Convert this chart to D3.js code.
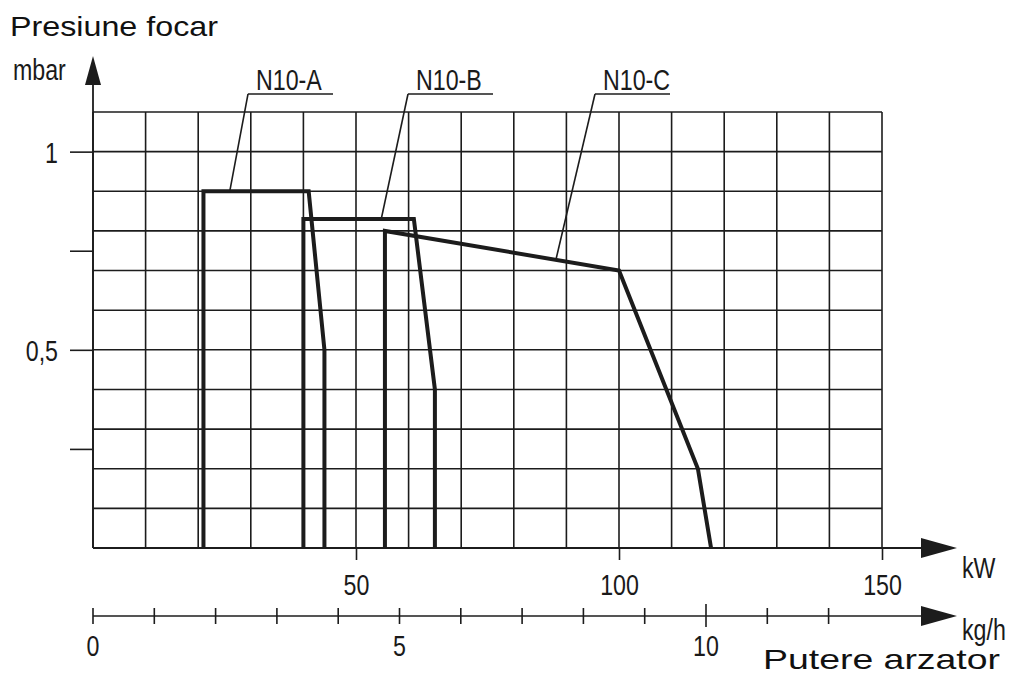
<!DOCTYPE html>
<html>
<head>
<meta charset="utf-8">
<script src="https://cdn.jsdelivr.net/npm/d3@7"></script>
<style>
  body { margin: 0; background: #fff; }
  svg { display: block; }
  .tech { font-family: "Liberation Sans", Arial, sans-serif; fill: #1a1a1a; }
  .title { font-family: "Liberation Sans", Arial, sans-serif; fill: #111; }
</style>
</head>
<body>
<div id="js-chart"></div>
<script>
// axis values
const kwTicks = [50, 100, 150];
const kghTicks = [0, 1, 2, 3, 4, 5, 6, 7, 8, 9, 10, 11, 12];
const kghLabels = [0, 5, 10];
const mbarTicks = [0.25, 0.5, 0.75, 1];
const mbarLabels = { 0.5: '0,5', 1: '1' };

// burner curves [kW, mbar]
const n10A = [[21, 0], [21, 0.9], [41, 0.9], [44, 0.5], [44, 0]];
const n10B = [[40, 0], [40, 0.83], [61, 0.83], [65, 0.4], [65, 0]];
const n10C = [[55.5, 0], [55.5, 0.8], [100, 0.7], [115, 0.2], [117.5, 0]];
const seriesNames = ['N10-A', 'N10-B', 'N10-C'];
const seriesData = [n10A, n10B, n10C];
// where each leader touches its curve [kW, mbar]
const leaderAnchors = [[26, 0.9], [54.8, 0.83], [88, 0.727]];

const width = 1015, height = 675;
const squeeze = 0.8; // narrow technical lettering

const svg = d3.select('#js-chart')
  .append('svg')
  .attr('width', width)
  .attr('height', height);

const x = d3.scaleLinear().domain([0, 150]).range([93, 882]);
const y = d3.scaleLinear().domain([0, 1.1]).range([548, 112]);
const xk = d3.scaleLinear().domain([0, 10]).range([93, 706]);

const ink = '#1c1c1c';

// narrow text placed at (tx, ty)
function techText(sel, tx, ty, anchor) {
  return sel.append('text')
    .attr('class', 'tech')
    .attr('font-size', 29)
    .attr('text-anchor', anchor || 'start')
    .attr('transform', `translate(${tx},${ty}) scale(${squeeze},1)`);
}

// grid
const grid = svg.append('g').attr('stroke', ink).attr('stroke-width', 1.6);
grid.selectAll('.v').data(d3.range(0, 151, 10)).enter().append('line')
  .attr('x1', d => x(d)).attr('x2', d => x(d))
  .attr('y1', y(0)).attr('y2', y(1.1));
grid.selectAll('.h').data(d3.range(0, 12).map(i => i / 10)).enter().append('line')
  .attr('x1', x(0)).attr('x2', x(150))
  .attr('y1', d => y(d)).attr('y2', d => y(d));

// y axis line + arrow
svg.append('line').attr('stroke', ink).attr('stroke-width', 1.8)
  .attr('x1', x(0)).attr('x2', x(0)).attr('y1', y(0)).attr('y2', 80);
svg.append('path').attr('fill', ink)
  .attr('d', `M${x(0)},56 L${x(0) - 8},85 L${x(0) + 8},85 Z`);

// y ticks
const yAxis = svg.append('g')
  .attr('transform', `translate(${x(0)},0)`)
  .call(d3.axisLeft(y).tickValues(mbarTicks).tickSize(23).tickFormat(d => mbarLabels[d] || ''));
yAxis.select('.domain').remove();
yAxis.attr('font-family', null).attr('font-size', null);
yAxis.selectAll('.tick line').attr('stroke', ink).attr('stroke-width', 1.6);
yAxis.selectAll('.tick text')
  .attr('class', 'tech').attr('font-size', 29).attr('fill', null)
  .attr('x', 0).attr('dy', '0.36em')
  .attr('transform', `translate(-35,0) scale(${squeeze},1)`);

// kW axis
svg.append('line').attr('stroke', ink).attr('stroke-width', 1.8)
  .attr('x1', x(0)).attr('x2', 925).attr('y1', y(0)).attr('y2', y(0));
svg.append('path').attr('fill', ink)
  .attr('d', `M957,${y(0)} L921,${y(0) - 10} L921,${y(0) + 10} Z`);
const kwAxis = svg.append('g')
  .attr('transform', `translate(0,${y(0)})`)
  .call(d3.axisBottom(x).tickValues(kwTicks).tickSize(12).tickFormat(d3.format('d')));
kwAxis.select('.domain').remove();
kwAxis.attr('font-family', null).attr('font-size', null);
kwAxis.selectAll('.tick line').attr('stroke', ink).attr('stroke-width', 1.6);
kwAxis.selectAll('.tick text')
  .attr('class', 'tech').attr('font-size', 29).attr('fill', null)
  .attr('y', 0).attr('dy', 0)
  .attr('transform', `translate(0,47) scale(${squeeze},1)`);
techText(svg, 962, 578).text('kW');

// kg/h axis
const yk = 616;
svg.append('line').attr('stroke', ink).attr('stroke-width', 1.6)
  .attr('x1', xk(0)).attr('x2', 925).attr('y1', yk).attr('y2', yk);
svg.append('path').attr('fill', ink)
  .attr('d', `M957,${yk} L921,${yk - 10} L921,${yk + 10} Z`);
svg.selectAll('.kgh-tick').data(kghTicks).enter().append('line')
  .attr('stroke', ink).attr('stroke-width', 1.6)
  .attr('x1', d => xk(d)).attr('x2', d => xk(d))
  .attr('y1', d => d === 10 ? yk - 12 : yk - 8)
  .attr('y2', d => d === 10 ? yk + 11 : yk + 8);
kghLabels.forEach(d => techText(svg, xk(d), 656, 'middle').text(d));
techText(svg, 962, 640).text('kg/h');

// curves
const line = d3.line().x(d => x(d[0])).y(d => y(d[1]));
svg.selectAll('.curve').data(seriesData).enter().append('path')
  .attr('fill', 'none').attr('stroke', ink).attr('stroke-width', 4)
  .attr('stroke-linejoin', 'miter')
  .attr('d', line);

// callouts
const calloutX = [248, 408, 595];
const calloutW = [85, 85, 75];
seriesNames.forEach((name, i) => {
  const g = svg.append('g');
  g.append('line').attr('stroke', ink).attr('stroke-width', 1.6)
    .attr('x1', calloutX[i]).attr('x2', calloutX[i] + calloutW[i])
    .attr('y1', 94).attr('y2', 94);
  g.append('line').attr('stroke', ink).attr('stroke-width', 1.6)
    .attr('x1', calloutX[i]).attr('y1', 94)
    .attr('x2', x(leaderAnchors[i][0])).attr('y2', y(leaderAnchors[i][1]));
  techText(g, calloutX[i] + 8, 90).text(name);
});

// titles
techText(svg, 13, 80).text('mbar');
svg.append('text').attr('class', 'title').attr('font-size', 28)
  .attr('x', 10).attr('y', 36).attr('textLength', 208).attr('lengthAdjust', 'spacingAndGlyphs')
  .text('Presiune focar');
svg.append('text').attr('class', 'title').attr('font-size', 28)
  .attr('x', 763).attr('y', 669).attr('textLength', 237).attr('lengthAdjust', 'spacingAndGlyphs')
  .text('Putere arzator');
</script>
</body>
</html>
